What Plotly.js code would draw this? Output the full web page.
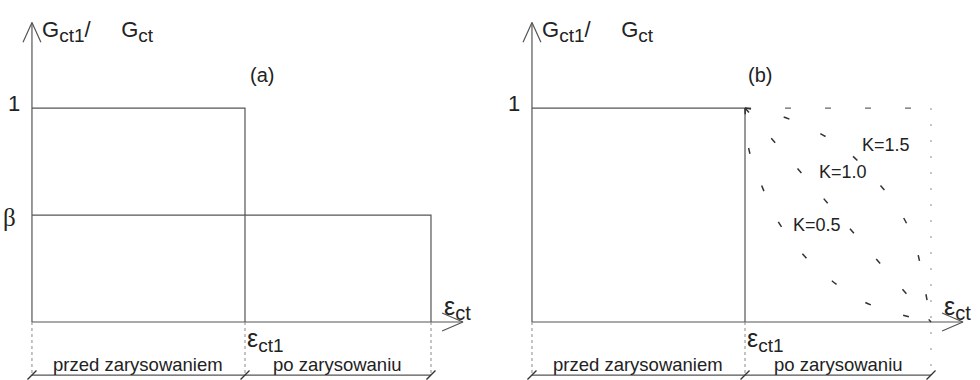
<!DOCTYPE html>
<html>
<head>
<meta charset="utf-8">
<script src="https://cdn.plot.ly/plotly-3.0.1.min.js"></script>
<style>
  html, body { margin: 0; padding: 0; background: #fff; }
  #plot { width: 980px; height: 380px; }
</style>
</head>
<body>
<div id="plot"></div>
<script>
// strain in units of eps_ct1, stiffness ratio G_ct1/G_ct
let epsCt1 = 1
let epsEnd = 1.873
let beta = 0.5

// panel (b) softening curves
let k15x = [1, 1.140, 1.313, 1.467, 1.597, 1.714, 1.794, 1.841, 1.873]
let k15y = [1, 0.972, 0.902, 0.808, 0.682, 0.537, 0.379, 0.171, 0]
let k10x = [1, 1.873]
let k10y = [1, 0]
let k05x = [1, 1.018, 1.079, 1.154, 1.266, 1.397, 1.551, 1.724, 1.873]
let k05y = [1, 0.808, 0.636, 0.472, 0.322, 0.201, 0.098, 0.037, 0]

// labels
let kLabels = ["K=1.5", "K=1.0", "K=0.5"]
let zoneLabels = ["przed zarysowaniem", "po zarysowaniu"]

// drawing helpers (positions in axis units)
let axisTop = 1.40
let axisRight = 2.023
let dimY = -0.248
let lineCol = "#555"
let textCol = "#222"

function seg(xs, ys, xa, dash, col, w) {
  return {
    x: xs, y: ys, xaxis: xa, yaxis: "y",
    type: "scatter", mode: "lines", hoverinfo: "skip",
    line: {color: col || lineCol, width: w || 1.2, dash: dash || "solid"}
  }
}

function frame(xa) {
  let t = []
  // axes with open arrow heads
  t.push(seg([0, 0], [0, axisTop], xa))
  t.push(seg([-0.042, 0, 0.042], [axisTop - 0.093, axisTop, axisTop - 0.093], xa))
  t.push(seg([0, axisRight], [0, 0], xa))
  t.push(seg([axisRight - 0.098, axisRight, axisRight - 0.098], [0.042, 0, -0.042], xa))
  // extension lines down to the dimension line
  t.push(seg([0, 0], [0, dimY], xa, "3px,3px", "#888", 1))
  t.push(seg([epsCt1, epsCt1], [0, dimY], xa, "3px,3px", "#888", 1))
  // dimension line with ticks
  t.push(seg([0, epsEnd], [dimY, dimY], xa))
  t.push({
    x: [0, epsCt1, epsEnd], y: [dimY, dimY, dimY], xaxis: xa, yaxis: "y",
    type: "scatter", mode: "markers", hoverinfo: "skip",
    marker: {symbol: "line-ne", size: 9, line: {color: "#333", width: 1.3}}
  })
  return t
}

let data = []

// panel (a)
data = data.concat(frame("x"))
data.push(seg([0, epsCt1, epsCt1], [1, 1, 0], "x"))
data.push(seg([0, epsEnd, epsEnd], [beta, beta, 0], "x"))
data.push(seg([epsEnd, epsEnd], [0, dimY], "x", "3px,3px", "#888", 1))

// panel (b)
data = data.concat(frame("x2"))
data.push(seg([0, epsCt1, epsCt1], [1, 1, 0], "x2"))
data.push(seg([epsCt1, epsEnd], [1, 1], "x2", "6px,34px", "#666", 1.2))
data.push(seg([epsEnd, epsEnd], [1, dimY], "x2", "2px,14px", "#888", 1))
let curveLine = {color: "#333", width: 1.5, dash: "6px,34px"}
data.push({x: k15x, y: k15y, xaxis: "x2", yaxis: "y", type: "scatter", mode: "lines",
  hoverinfo: "skip", line: Object.assign({shape: "spline"}, curveLine)})
data.push({x: k10x, y: k10y, xaxis: "x2", yaxis: "y", type: "scatter", mode: "lines",
  hoverinfo: "skip", line: curveLine})
data.push({x: k05x, y: k05y, xaxis: "x2", yaxis: "y", type: "scatter", mode: "lines",
  hoverinfo: "skip", line: Object.assign({shape: "spline"}, curveLine)})

function note(xa, x, y, text, size, xanchor, yanchor, family) {
  return {
    xref: xa, yref: "y", x: x, y: y, text: text, showarrow: false,
    xanchor: xanchor || "center", yanchor: yanchor || "middle",
    font: {size: size, color: textCol, family: family || "Liberation Sans, Arial, sans-serif"}
  }
}

function sub(s, px) {
  return "<sub><span style='font-size:" + px + "px'>" + s + "</span></sub>"
}

let annotations = []
let panels = [["x", "(a)", 1.08], ["x2", "(b)", 1.07]]
for (let i in panels) {
  let xa = panels[i][0]
  annotations.push(note(xa, 0.038, 1.36,
    "G" + sub("ct1", 19) + "/\u00a0\u00a0\u00a0\u00a0\u00a0G" + sub("ct", 19), 22, "left"))
  annotations.push(note(xa, panels[i][2], 1.155, panels[i][1], 20))
  annotations.push(note(xa, -0.047, 1.02, "1", 22, "right"))
  annotations.push(note(xa, epsCt1, 0.0, "ε" + sub("ct1", 19), 25, "left", "top"))
  annotations.push(note(xa, 1.925, -0.02, "ε" + sub("ct", 20), 25, "left", "bottom"))
  annotations.push(note(xa, epsCt1 / 2, -0.2, zoneLabels[0], 18.5))
  annotations.push(note(xa, (epsCt1 + epsEnd) / 2, -0.2, zoneLabels[1], 18.5))
}
annotations.push(note("x", -0.066, 0.49, "β", 25, "right", "middle", "Liberation Serif, serif"))
annotations.push(note("x2", 1.662, 0.827, kLabels[0], 18))
annotations.push(note("x2", 1.460, 0.701, kLabels[1], 18))
annotations.push(note("x2", 1.338, 0.453, kLabels[2], 18))

let hidden = {visible: false, fixedrange: true, showgrid: false, zeroline: false}

let layout = {
  width: 980,
  height: 380,
  margin: {l: 0, r: 0, t: 0, b: 0},
  showlegend: false,
  paper_bgcolor: "#fff",
  plot_bgcolor: "#fff",
  xaxis: Object.assign({domain: [0, 0.5], range: [-0.150, 2.150]}, hidden),
  xaxis2: Object.assign({domain: [0.5, 1], range: [-0.197, 2.103], anchor: "y"}, hidden),
  yaxis: Object.assign({domain: [0, 1], range: [-0.271, 1.505]}, hidden),
  annotations: annotations
}

Plotly.newPlot("plot", data, layout, {displayModeBar: false, staticPlot: true})
</script>
</body>
</html>
